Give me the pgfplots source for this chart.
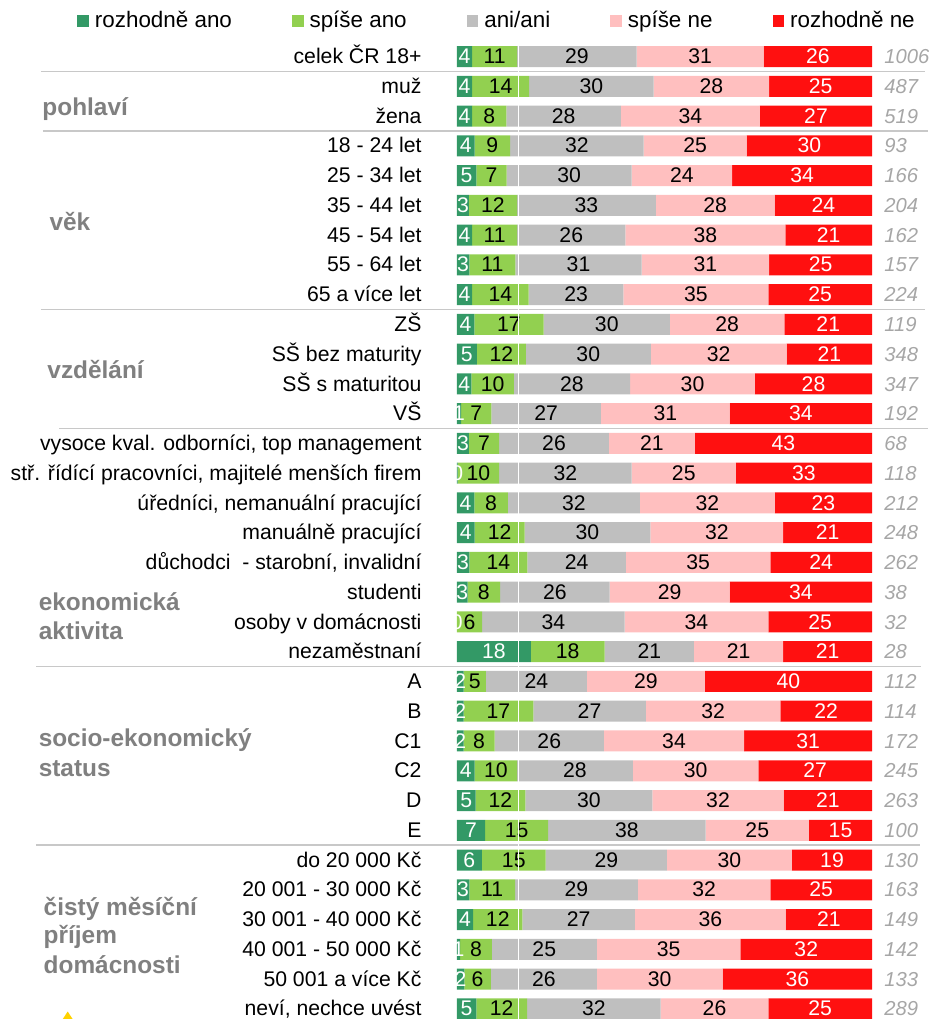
\documentclass[border=0pt]{standalone}
\usepackage{pgfplots}
\pgfplotsset{compat=1.18}
\usepackage{pgfplotstable}
\usepackage{fontspec}
\setmainfont{Liberation Sans}
\definecolor{cdg}{HTML}{339966}
\definecolor{clg}{HTML}{92D050}
\definecolor{cga}{HTML}{BFBFBF}
\definecolor{cpk}{HTML}{FFBFBF}
\definecolor{crd}{HTML}{FF1010}
\definecolor{cgrp}{HTML}{808080}
\definecolor{ccnt}{HTML}{A6A6A6}
\definecolor{csep}{HTML}{C8C8C8}
\definecolor{cyel}{HTML}{FFD200}
\newcommand\lblfont{\fontsize{10.6}{12.5}\selectfont}
\tikzset{grp/.style={anchor=base west, inner sep=0pt, text=cgrp, font=\bfseries\fontsize{12.2}{14}\selectfont}}

\pgfplotstableread{
row dg lg ga pk rd ldg llg lga lpk lrd
0 3.7 10.8 28.8 30.6 26.1 4 11 29 31 26
1 3.7 13.7 30.0 27.8 24.8 4 14 30 28 25
2 3.7 8.2 27.6 33.5 27.0 4 8 28 34 27
3 4.3 8.5 32.2 24.8 30.2 4 9 32 25 30
4 4.7 7.3 30.1 24.2 33.7 5 7 30 24 34
5 2.9 11.6 33.4 28.6 23.5 3 12 33 28 24
6 3.7 10.8 26.1 38.5 20.9 4 11 26 38 21
7 3.0 11.1 30.4 30.7 24.8 3 11 31 31 25
8 3.7 13.6 22.8 34.9 25.0 4 14 23 35 25
9 4.2 16.7 30.4 27.6 21.1 4 17 30 28 21
10 4.8 11.8 30.1 32.7 20.6 5 12 30 32 21
11 3.5 10.2 28.0 30.1 28.2 4 10 28 30 28
12 1.0 7.3 26.4 31.0 34.3 1 7 27 31 34
13 2.9 7.3 26.4 20.7 42.7 3 7 26 21 43
14 0.2 10.0 31.9 25.1 32.8 0 10 32 25 33
15 4.2 8.1 31.8 32.5 23.4 4 8 32 32 23
16 4.3 12.0 30.3 32.0 21.4 4 12 30 32 21
17 3.0 14.0 23.7 34.8 24.5 3 14 24 35 24
18 2.6 7.8 26.4 28.9 34.3 3 8 26 29 34
19 0.0 6.1 34.3 34.6 25.0 0 6 34 34 25
20 17.8 17.8 21.5 21.5 21.4 18 18 21 21 21
21 1.6 5.4 24.3 28.4 40.3 2 5 24 29 40
22 1.6 16.8 27.1 32.4 22.1 2 17 27 32 22
23 1.6 7.5 26.3 33.8 30.8 2 8 26 34 31
24 4.3 10.2 27.9 30.2 27.4 4 10 28 30 27
25 4.5 12.0 30.6 31.6 21.3 5 12 30 32 21
26 6.8 15.2 37.9 24.9 15.2 7 15 38 25 15
27 6.0 15.4 29.2 30.1 19.3 6 15 29 30 19
28 3.0 11.0 29.6 31.9 24.5 3 11 29 32 25
29 3.9 11.9 27.1 36.3 20.8 4 12 27 36 21
30 0.8 7.6 25.3 34.6 31.7 1 8 25 35 32
31 1.8 6.4 25.5 30.3 36.0 2 6 26 30 36
32 4.7 12.2 32.2 25.9 25.0 5 12 32 26 25
}\data

\begin{document}
\begin{tikzpicture}
\begin{axis}[
  scale only axis, width=207.6pt, height=491.04pt,
  xmin=0, xmax=100, ymin=-0.5, ymax=32.5, y dir=reverse,
  xbar stacked, bar width=10.5pt,
  axis line style={draw=none}, tick style={draw=none}, major tick length=0pt,
  xtick=\empty, ytick={0,...,32},
  yticklabels={celek ČR 18+, muž, žena, 18 - 24 let, 25 - 34 let, 35 - 44 let, 45 - 54 let, 55 - 64 let, 65 a více let, ZŠ, SŠ bez maturity, SŠ s maturitou, VŠ, {vysoce kval. odborníci, top management}, {stř. řídící pracovníci, majitelé menších firem}, {úředníci, nemanuální pracující}, manuálně pracující, {důchodci\ \ - starobní, invalidní}, studenti, osoby v domácnosti, nezaměstnaní, A, B, C1, C2, D, E, do 20 000 Kč, 20 001 - 30 000 Kč, 30 001 - 40 000 Kč, 40 001 - 50 000 Kč, 50 001 a více Kč, {neví, nechce uvést}},
  yticklabel style={font=\lblfont, anchor=east, inner xsep=0pt, inner ysep=0pt, text height=0.716em, text depth=0pt, xshift=-17.5pt},
  clip=false,
  legend columns=5,
  legend cell align=left,
  legend style={draw=none, fill=none, at={(-0.915,1.0197)}, anchor=west, inner sep=0pt,
    font=\fontsize{11.2}{13}\selectfont,
    /tikz/every odd column/.append style={column sep=2pt},
    /tikz/every even column/.append style={column sep=29pt},
    nodes={inner xsep=1pt, inner ysep=0pt, text height=0.75em, text depth=0.21em}},
]
\addplot[fill=cdg, draw=none, legend image code/.code={\fill[cdg] (0pt,-2.2pt) rectangle (5.8pt,3.6pt);}] table[x=dg,y=row]{\data};
\addlegendentry{rozhodně ano}
\addplot[fill=clg, draw=none, legend image code/.code={\fill[clg] (0pt,-2.2pt) rectangle (5.8pt,3.6pt);}] table[x=lg,y=row]{\data};
\addlegendentry{spíše ano}
\addplot[fill=cga, draw=none, legend image code/.code={\fill[cga] (0pt,-2.2pt) rectangle (5.8pt,3.6pt);}] table[x=ga,y=row]{\data};
\addlegendentry{ani/ani}
\addplot[fill=cpk, draw=none, legend image code/.code={\fill[cpk] (0pt,-2.2pt) rectangle (5.8pt,3.6pt);}] table[x=pk,y=row]{\data};
\addlegendentry{spíše ne}
\addplot[fill=crd, draw=none, legend image code/.code={\fill[crd] (0pt,-2.2pt) rectangle (5.8pt,3.6pt);}] table[x=rd,y=row]{\data};
\addlegendentry{rozhodně ne}
% separators
\draw[csep, line width=0.75pt] (axis cs:-100.2,0.5) -- (axis cs:112.7,0.5);
\draw[csep, line width=0.75pt] (axis cs:-99.7,2.5) -- (axis cs:113.4,2.5);
\draw[csep, line width=0.75pt] (axis cs:-100.2,8.5) -- (axis cs:112.7,8.5);
\draw[csep, line width=0.75pt] (axis cs:-95.8,12.5) -- (axis cs:113.4,12.5);
\draw[csep, line width=0.75pt] (axis cs:-101.3,20.5) -- (axis cs:111.7,20.5);
\draw[csep, line width=0.75pt] (axis cs:-101.4,26.5) -- (axis cs:111.5,26.5);
% group labels
\node[grp] at (axis cs:-99.9,1.966) {pohlaví};
\node[grp] at (axis cs:-98.2,5.853) {věk};
\node[grp] at (axis cs:-98.7,10.803) {vzdělání};
\node[grp] at (axis cs:-100.8,18.62) {ekonomická};
\node[grp] at (axis cs:-100.8,19.58) {aktivita};
\node[grp] at (axis cs:-100.8,23.19) {socio-ekonomický};
\node[grp] at (axis cs:-100.8,24.18) {status};
\node[grp] at (axis cs:-99.6,28.85) {čistý měsíční};
\node[grp] at (axis cs:-99.6,29.82) {příjem};
\node[grp] at (axis cs:-99.6,30.80) {domácnosti};
% logo fragment
\fill[cyel] (axis cs:-95.66,32.5) -- (axis cs:-93.73,32.09) -- (axis cs:-91.81,32.5) -- cycle;
\coordinate (bbTL) at (axis cs:-110.04,-1.899);
\coordinate (bbBR) at (axis cs:113.65,32.342);
\end{axis}
\begin{axis}[
  scale only axis, width=207.6pt, height=491.04pt,
  xmin=0, xmax=100, ymin=-0.5, ymax=32.5, y dir=reverse,
  axis line style={draw=none}, tick style={draw=none}, major tick length=0pt,
  xtick=\empty, ytick={0,...,32},
  yticklabel pos=right,
  yticklabels={1006,487,519,93,166,204,162,157,224,119,348,347,192,68,118,212,248,262,38,32,28,112,114,172,245,263,100,130,163,149,142,133,289},
  yticklabel style={font=\itshape\fontsize{10.1}{12}\selectfont, text=ccnt, anchor=west, inner xsep=0pt, inner ysep=0pt, text height=0.716em, text depth=0pt, xshift=6pt},
  clip marker paths=true,
  point meta=explicit symbolic,
  nodes near coords,
  nodes near coords style={font=\lblfont, anchor=center, inner sep=0pt, text height=0.716em, text depth=0pt},
]
\addplot[only marks, mark=none, nodes near coords style={text=white}] table[x expr=\thisrow{dg}/2, y=row, meta=ldg]{\data};
\addplot[only marks, mark=none, nodes near coords style={text=black}] table[x expr=\thisrow{dg}+\thisrow{lg}/2, y=row, meta=llg]{\data};
\addplot[only marks, mark=none, nodes near coords style={text=black}] table[x expr=\thisrow{dg}+\thisrow{lg}+\thisrow{ga}/2, y=row, meta=lga]{\data};
\addplot[only marks, mark=none, nodes near coords style={text=black}] table[x expr=\thisrow{dg}+\thisrow{lg}+\thisrow{ga}+\thisrow{pk}/2, y=row, meta=lpk]{\data};
\addplot[only marks, mark=none, nodes near coords style={text=white}] table[x expr=100-\thisrow{rd}/2, y=row, meta=lrd]{\data};
\draw[white, line width=0.75pt] (axis cs:14.9,-0.5) -- (axis cs:14.9,32.5);
\end{axis}
\pgfresetboundingbox
\path[use as bounding box] (bbTL) rectangle (bbBR);
\end{tikzpicture}
\end{document}
